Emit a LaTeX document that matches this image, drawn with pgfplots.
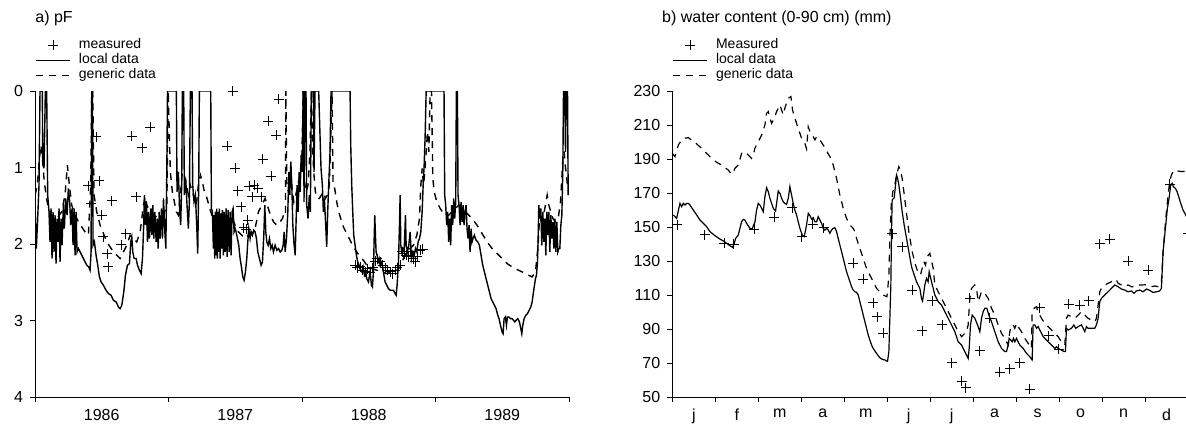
\documentclass[border=0pt]{standalone}
\usepackage{fontspec}
\setmainfont{Liberation Sans}
\usepackage{pgfplots}
\pgfplotsset{compat=1.18}
\begin{document}
\begin{tikzpicture}
\path[use as bounding box] (0,0) rectangle (593pt,211.5pt);
\pgfplotsset{
 panel/.style={
  scale only axis, axis x line*=bottom, axis y line*=left,
  x axis line style={-}, y axis line style={-},
  axis line style={line width=0.5pt},
  tick align=outside, major tick length=2.5pt,
  every tick/.style={black, line width=0.5pt},
  /pgf/number format/assume math mode=true,
  tick label style={font=\fontsize{8}{9.6}\selectfont},
  x tick label as interval,
  legend cell align=left,
  legend style={draw=none, fill=none, font=\fontsize{7}{8.4}\selectfont,
    at={(0,1.172)}, anchor=north west, inner sep=0pt, row sep=1pt,
    nodes={inner ysep=0pt, inner xsep=2.5pt, text height=5pt, text depth=1.5pt},
    /tikz/every odd column/.append style={column sep=1.5pt}},
  height=153pt,
 },
 meas/.style={only marks, mark=+, mark size=2.5pt, mark options={line width=0.5pt}, black},
 loc/.style={black, line width=0.7pt},
 gen/.style={black, line width=0.7pt, dash pattern=on 3.5pt off 3pt},
}
\node[anchor=base west, inner sep=0pt, font=\fontsize{8}{9.6}\selectfont] at (17.5pt,200pt) {a) pF};
\node[anchor=base west, inner sep=0pt, font=\fontsize{8}{9.6}\selectfont] at (330.9pt,200pt) {b) water content (0-90 cm) (mm)};

% ---------------- left panel ----------------
\begin{axis}[panel, at={(17.5pt,13pt)}, anchor=south west, width=267pt,
  xmin=1986, xmax=1990, ymin=0, ymax=4, y dir=reverse,
  xtick={1986,1987,1988,1989,1990}, xticklabels={1986,1987,1988,1989},
  ytick={0,1,2,3,4}]
\addlegendimage{meas}\addlegendentry{measured}
\addlegendimage{loc}\addlegendentry{local data}
\addlegendimage{gen}\addlegendentry{generic data}
\addplot[gen, forget plot] coordinates {
(1986.000,1.361)(1986.0175,1.230)(1986.0325,0.881)(1986.045,0.707)(1986.0575,0.925)(1986.0675,1.143)
(1986.0825,1.361)(1986.1,1.536)(1986.125,1.623)(1986.1625,1.667)(1986.2,1.579)(1986.225,1.361)
(1986.2425,0.969)(1986.2575,1.230)(1986.275,1.492)(1986.3,1.623)(1986.325,1.710)(1986.35,1.776)
(1986.375,1.841)(1986.4,1.885)(1986.4175,1.230)(1986.425,0)(1986.4325,0)(1986.4425,1.361)
(1986.4625,1.579)(1986.4875,1.754)(1986.5125,1.863)(1986.5375,1.972)(1986.5625,2.038)(1986.5875,2.103)
(1986.6125,2.147)(1986.6375,2.190)(1986.6625,2.103)(1986.6875,2.016)(1986.7125,1.885)(1986.7375,1.928)
(1986.7625,1.972)(1986.7875,1.841)(1986.8125,1.492)(1986.825,1.383)(1986.8375,1.492)(1986.8625,1.579)
(1986.8875,1.623)(1986.9125,1.645)(1986.9375,1.645)(1986.9625,1.623)(1986.9875,1.492)(1986.9975,0)
(1987.0138,1.056)(1987.0288,1.318)(1987.0438,1.449)(1987.0588,1.579)(1987.0738,1.623)(1987.0888,1.361)
(1987.1038,1.056)(1987.1188,1.099)(1987.1338,1.230)(1987.1488,1.361)(1987.1638,1.230)(1987.1788,1.318)
(1987.1938,1.405)(1987.2088,1.492)(1987.2238,1.230)(1987.2388,1.099)(1987.2538,1.187)(1987.2688,1.318)
(1987.2888,1.405)(1987.3088,1.536)(1987.3288,1.645)(1987.3488,1.710)(1987.3738,1.754)(1987.3988,1.710)
(1987.4238,1.667)(1987.4488,1.623)(1987.4738,1.645)(1987.4988,1.754)(1987.5238,1.841)(1987.5488,1.885)
(1987.5738,1.928)(1987.5988,1.885)(1987.6238,1.841)(1987.6488,1.798)(1987.6738,1.579)(1987.6988,1.492)
(1987.7238,1.405)(1987.7438,1.514)(1987.7638,1.623)(1987.7863,1.710)(1987.8113,1.754)(1987.8363,1.710)
(1987.8538,1.667)(1987.8688,1.579)(1987.8763,1.600)(1987.8788,0)(1987.8863,1.230)(1987.8988,1.318)
(1987.9188,1.187)(1987.9388,1.449)(1987.9588,1.318)(1987.9788,1.143)(1987.9988,0.900)(1988.0088,0)
(1988.015,1.143)(1988.03,1.318)(1988.045,1.230)(1988.06,0.794)(1988.07,0)(1988.08,0.794)
(1988.09,1.099)(1988.1,1.318)(1988.115,1.405)(1988.13,1.405)(1988.145,1.361)(1988.16,1.318)
(1988.175,1.405)(1988.19,1.361)(1988.205,1.230)(1988.2175,0.445)(1988.225,0)(1988.2325,1.230)
(1988.245,1.274)(1988.26,1.449)(1988.275,1.579)(1988.29,1.667)(1988.31,1.776)(1988.335,1.863)
(1988.36,1.950)(1988.385,2.038)(1988.41,2.103)(1988.435,2.168)(1988.46,2.212)(1988.485,2.277)
(1988.5225,2.321)(1988.56,2.343)(1988.5975,2.365)(1988.635,2.387)(1988.6725,2.365)(1988.71,2.343)
(1988.735,2.299)(1988.76,2.190)(1988.785,2.103)(1988.81,2.059)(1988.835,2.016)(1988.86,1.885)
(1988.88,1.667)(1988.89,1.230)(1988.9,1.012)(1988.91,1.230)(1988.92,1.056)(1988.93,0.794)
(1988.94,0.532)(1988.95,0.794)(1988.96,0)(1988.97,0)(1988.98,1.143)(1988.99,1.318)
(1989.01,1.449)(1989.035,1.536)(1989.06,1.601)(1989.0738,1.623)(1989.0988,1.623)(1989.1238,1.579)
(1989.1488,1.536)(1989.1738,1.492)(1989.1988,1.536)(1989.2238,1.579)(1989.2488,1.623)(1989.2738,1.667)
(1989.3113,1.754)(1989.3488,1.863)(1989.3863,1.972)(1989.4238,2.059)(1989.4613,2.125)(1989.4988,2.190)
(1989.5363,2.256)(1989.5738,2.299)(1989.6113,2.334)(1989.6488,2.365)(1989.6863,2.400)(1989.7238,2.430)
(1989.7488,2.365)(1989.7688,2.016)(1989.7788,1.667)(1989.7988,1.710)(1989.8188,1.536)(1989.8363,1.361)
(1989.8488,1.492)(1989.8638,1.579)(1989.8788,1.667)(1989.8988,1.710)(1989.9188,1.667)(1989.9363,1.449)
(1989.9488,1.056)(1989.9563,0.794)(1989.9638,0.800)(1989.9738,1.000)(1989.9863,1.200)(1989.9938,1.300)
};
\addplot[loc, forget plot] coordinates {
(1986.000,1.514)(1986.010,2.059)(1986.020,1.667)(1986.030,1.230)(1986.0375,0)(1986.055,0)
(1986.0575,0.881)(1986.0675,1.012)(1986.0775,0)(1986.0875,0)(1986.095,1.361)(1986.105,1.579)
(1986.1125,1.972)(1986.12,1.536)(1986.1275,2.190)(1986.135,1.579)(1986.1425,2.103)(1986.15,1.623)
(1986.1575,2.256)(1986.165,1.667)(1986.1725,1.972)(1986.18,1.536)(1986.1875,2.234)(1986.195,1.667)
(1986.2025,2.016)(1986.2125,1.492)(1986.22,1.798)(1986.23,1.405)(1986.24,1.623)(1986.25,1.274)
(1986.26,1.449)(1986.2675,1.754)(1986.2775,1.536)(1986.285,2.016)(1986.2925,1.536)(1986.3,2.147)
(1986.3075,1.579)(1986.315,2.103)(1986.325,2.059)(1986.3375,2.103)(1986.35,2.147)(1986.3625,2.190)
(1986.375,2.234)(1986.3875,2.277)(1986.4025,2.299)(1986.4125,2.343)(1986.42,2.103)(1986.425,0)
(1986.43,0)(1986.435,2.016)(1986.445,1.972)(1986.4575,2.147)(1986.47,2.277)(1986.4825,2.430)
(1986.495,2.496)(1986.5125,2.539)(1986.5325,2.605)(1986.55,2.648)(1986.57,2.670)(1986.5875,2.736)
(1986.6075,2.757)(1986.625,2.823)(1986.6375,2.845)(1986.65,2.801)(1986.665,2.627)(1986.6775,2.408)
(1986.6925,2.277)(1986.7075,2.256)(1986.7175,1.972)(1986.725,1.907)(1986.7325,2.103)(1986.7425,2.190)
(1986.7575,2.190)(1986.7675,2.277)(1986.7825,2.343)(1986.795,2.387)(1986.805,2.190)(1986.8125,1.841)
(1986.82,1.361)(1986.8275,1.754)(1986.835,1.449)(1986.8425,1.972)(1986.85,1.579)(1986.8575,1.928)
(1986.8675,1.536)(1986.875,1.885)(1986.8825,1.492)(1986.89,1.928)(1986.8975,1.579)(1986.9075,1.972)
(1986.915,1.667)(1986.9225,2.059)(1986.93,1.579)(1986.9375,1.928)(1986.9475,1.536)(1986.955,1.928)
(1986.9625,1.405)(1986.9725,1.841)(1986.98,2.059)(1986.9875,1.012)(1986.9925,0)(1987.0588,0)
(1987.0638,1.318)(1987.0738,1.056)(1987.0838,1.579)(1987.0913,1.754)(1987.0988,1.230)(1987.1038,0)
(1987.1138,0)(1987.1188,1.361)(1987.1288,1.143)(1987.1388,1.492)(1987.1488,1.798)(1987.1563,1.449)
(1987.1638,0)(1987.1763,0)(1987.1813,1.230)(1987.1913,1.449)(1987.2013,1.361)(1987.2113,1.754)
(1987.2188,2.125)(1987.2263,1.230)(1987.2313,0)(1987.3163,0)(1987.3213,1.536)(1987.3288,1.579)
(1987.3363,2.059)(1987.3413,1.623)(1987.3463,2.190)(1987.3513,1.579)(1987.3563,2.147)(1987.3613,1.536)
(1987.3663,2.190)(1987.3713,1.579)(1987.3763,2.103)(1987.3813,1.536)(1987.3863,2.190)(1987.3913,1.601)
(1987.3988,2.059)(1987.4038,1.558)(1987.4113,2.147)(1987.4163,1.579)(1987.4238,2.103)(1987.4313,1.536)
(1987.4388,2.168)(1987.4463,1.558)(1987.4538,2.103)(1987.4613,1.579)(1987.4688,2.147)(1987.4763,1.579)
(1987.4838,1.536)(1987.4913,1.841)(1987.4988,1.798)(1987.5063,1.841)(1987.5163,1.928)(1987.5263,2.016)
(1987.5363,2.190)(1987.5463,2.299)(1987.5563,2.430)(1987.5663,2.474)(1987.5763,2.365)(1987.5863,2.190)
(1987.5938,1.972)(1987.6013,1.798)(1987.6113,1.928)(1987.6188,1.841)(1987.6288,1.885)(1987.6388,1.819)
(1987.6488,1.841)(1987.6588,1.928)(1987.6688,2.103)(1987.6813,2.190)(1987.6938,2.277)(1987.7038,2.234)
(1987.7138,1.885)(1987.7213,1.492)(1987.7288,1.841)(1987.7363,1.972)(1987.7463,2.016)(1987.7563,1.928)
(1987.7663,2.059)(1987.7763,2.016)(1987.7863,2.103)(1987.7988,2.016)(1987.8113,2.081)(1987.8238,2.059)
(1987.8363,2.103)(1987.8488,2.081)(1987.8588,2.016)(1987.8663,1.841)(1987.8738,2.103)(1987.8838,1.928)
(1987.8938,1.579)(1987.9013,1.056)(1987.9088,1.361)(1987.9163,0.925)(1987.9238,1.230)(1987.9313,1.754)
(1987.9388,1.972)(1987.9488,2.147)(1987.9563,1.667)(1987.9638,1.230)(1987.9713,1.579)(1987.9788,1.056)
(1987.9863,1.318)(1987.9938,0.838)(1988.0013,1.056)(1988.0088,0)(1988.012,0)(1988.015,1.449)
(1988.0225,0)(1988.03,0)(1988.035,1.492)(1988.045,1.667)(1988.055,1.361)(1988.0625,1.579)
(1988.07,0)(1988.085,0)(1988.09,1.056)(1988.0975,0)(1988.125,0)(1988.1325,0.445)
(1988.1425,1.012)(1988.1525,1.230)(1988.16,1.579)(1988.1675,1.405)(1988.1775,1.754)(1988.185,2.038)
(1988.1925,1.579)(1988.2,1.230)(1988.21,0.794)(1988.2175,0)(1988.36,0)(1988.365,0.707)
(1988.3725,1.230)(1988.38,1.579)(1988.3875,1.885)(1988.3975,2.016)(1988.4075,2.147)(1988.4175,2.234)
(1988.4275,2.277)(1988.4375,2.343)(1988.4475,2.365)(1988.4575,2.299)(1988.4675,2.408)(1988.4775,2.365)
(1988.485,2.452)(1988.4975,2.496)(1988.51,2.365)(1988.52,2.539)(1988.5275,2.561)(1988.535,2.365)
(1988.54,1.972)(1988.545,1.623)(1988.55,1.885)(1988.555,2.103)(1988.5625,2.147)(1988.57,2.234)
(1988.5775,2.190)(1988.585,2.277)(1988.5975,2.234)(1988.61,2.365)(1988.6225,2.496)(1988.635,2.539)
(1988.6475,2.583)(1988.66,2.605)(1988.6725,2.605)(1988.685,2.605)(1988.6975,2.648)(1988.705,2.670)
(1988.7125,2.539)(1988.7225,2.234)(1988.73,1.754)(1988.735,1.361)(1988.74,2.016)(1988.7475,2.103)
(1988.755,2.059)(1988.765,2.103)(1988.775,1.623)(1988.78,2.016)(1988.79,2.103)(1988.8,2.016)
(1988.81,1.841)(1988.82,2.190)(1988.83,2.103)(1988.84,2.147)(1988.85,2.059)(1988.86,2.103)
(1988.87,1.972)(1988.88,1.928)(1988.89,1.841)(1988.9,1.579)(1988.9075,1.230)(1988.915,0.969)
(1988.9225,0.576)(1988.93,0)(1989.0638,0)(1989.0688,1.361)(1989.0763,1.492)(1989.0838,1.754)
(1989.0913,1.579)(1989.0988,1.972)(1989.1063,1.667)(1989.1138,2.016)(1989.1213,1.492)(1989.1288,1.754)
(1989.1363,1.405)(1989.1438,1.667)(1989.1513,1.449)(1989.1563,0)(1989.1638,0)(1989.1688,1.361)
(1989.1763,1.492)(1989.1838,1.754)(1989.1913,1.449)(1989.1988,1.710)(1989.2063,1.492)(1989.2138,1.754)
(1989.2213,1.579)(1989.2288,1.492)(1989.2363,1.798)(1989.2438,1.928)(1989.2513,1.754)(1989.2588,2.103)
(1989.2663,1.798)(1989.2738,1.972)(1989.2813,1.928)(1989.2913,1.885)(1989.3038,1.950)(1989.3163,1.972)
(1989.3288,2.016)(1989.3413,2.147)(1989.3538,2.277)(1989.3663,2.365)(1989.3788,2.452)(1989.3913,2.539)
(1989.4038,2.627)(1989.4163,2.714)(1989.4288,2.757)(1989.4413,2.801)(1989.4538,2.845)(1989.4663,2.932)
(1989.4763,2.976)(1989.4863,3.063)(1989.4988,3.150)(1989.5063,3.172)(1989.5138,2.976)(1989.5238,2.954)
(1989.5313,3.063)(1989.5388,2.954)(1989.5488,2.954)(1989.5613,2.976)(1989.5738,2.976)(1989.5838,2.997)
(1989.5938,3.019)(1989.6038,2.997)(1989.6163,2.976)(1989.6288,3.019)(1989.6388,3.106)(1989.6463,3.172)
(1989.6538,3.063)(1989.6638,2.976)(1989.6763,2.932)(1989.6888,2.910)(1989.7013,2.867)(1989.7138,2.823)
(1989.7238,2.757)(1989.7338,2.627)(1989.7413,2.539)(1989.7488,2.452)(1989.7563,2.408)(1989.7638,2.234)
(1989.7688,1.928)(1989.7738,1.492)(1989.7813,1.667)(1989.7888,1.536)(1989.7963,2.016)(1989.8038,1.579)
(1989.8113,1.972)(1989.8188,1.667)(1989.8263,2.147)(1989.8338,1.579)(1989.8413,1.885)(1989.8488,1.579)
(1989.8563,2.103)(1989.8638,1.623)(1989.8713,1.928)(1989.8788,1.710)(1989.8863,2.059)(1989.8938,1.667)
(1989.9013,2.103)(1989.9088,1.710)(1989.9163,2.103)(1989.9238,2.059)(1989.9313,2.059)(1989.9388,1.754)
(1989.9463,1.623)(1989.9538,1.012)(1989.9588,0)(1989.9688,0)(1989.9738,0.794)(1989.9788,0)
(1989.9888,0)(1989.9938,1.361)
};
\addplot[meas, forget plot] coordinates {
(1986.4575,0.598)(1986.725,0.589)(1986.8625,0.476)(1986.805,0.742)(1986.400,1.239)(1986.480,1.174)
(1986.575,1.435)(1986.420,1.466)(1986.7575,1.383)(1986.500,1.623)(1986.5125,1.907)(1986.680,1.863)
(1986.6475,2.007)(1986.5425,2.129)(1986.55,2.299)
(1987.481,0.0)(1987.826,0.109)(1987.746,0.393)(1987.806,0.576)(1987.441,0.720)(1987.706,0.894)
(1987.499,1.012)(1987.769,1.113)(1987.519,1.305)(1987.604,1.243)(1987.644,1.230)(1987.669,1.274)
(1987.629,1.383)(1987.694,1.383)(1987.544,1.514)(1987.594,1.688)(1987.564,1.789)(1987.581,1.806)
(1988.3975,2.277)(1988.415,2.312)(1988.435,2.299)(1988.455,2.343)(1988.4725,2.365)(1988.4925,2.321)
(1988.51,2.373)(1988.53,2.312)(1988.5475,2.225)(1988.565,2.190)(1988.585,2.234)(1988.605,2.277)
(1988.6225,2.312)(1988.64,2.343)(1988.66,2.365)(1988.68,2.387)(1988.6975,2.343)(1988.715,2.312)
(1988.735,2.277)(1988.75,2.103)(1988.765,2.125)(1988.78,2.147)(1988.7975,2.168)(1988.815,2.103)
(1988.835,2.190)(1988.85,2.234)(1988.865,2.168)(1988.885,2.081)(1988.905,2.068)
};
\end{axis}

% ---------------- right panel ----------------
\begin{axis}[panel, at={(336.15pt,13pt)}, anchor=south west, width=257.85pt,
  xmin=0, xmax=12, ymin=50, ymax=230,
  xtick={0,1,2,3,4,5,6,7,8,9,10,11,12}, xticklabels={j,f,m,a,m,j,j,a,s,o,n,d},
  ytick={50,70,90,110,130,150,170,190,210,230}]
\addlegendimage{meas}\addlegendentry{Measured}
\addlegendimage{loc, line width=0.6pt}\addlegendentry{local data}
\addlegendimage{gen, line width=0.6pt}\addlegendentry{generic data}
\addplot[gen, line width=0.6pt, forget plot] coordinates {
(0.0,193.3)(0.062,191.4)(0.140,198.2)(0.217,201.2)(0.295,202.2)(0.372,202.6)(0.450,201.0)(0.527,199.8)
(0.605,198.0)(0.682,196.3)(0.760,194.3)(0.837,192.4)(0.915,190.4)(0.992,188.8)(1.070,187.5)(1.147,186.5)
(1.225,184.9)(1.302,183.5)(1.380,181.0)(1.419,182.2)(1.457,184.5)(1.535,186.5)(1.612,193.3)(1.690,194.3)
(1.767,192.4)(1.845,190.4)(1.884,192.4)(1.922,196.3)(2.000,200.2)(2.078,204.1)(2.155,210.0)(2.194,216.9)
(2.233,217.9)(2.271,213.9)(2.310,211.0)(2.349,212.9)(2.388,214.9)(2.426,217.9)(2.465,219.8)(2.504,221.8)
(2.543,218.8)(2.581,216.0)(2.620,220.0)(2.659,223.0)(2.698,225.7)(2.760,226.7)(2.798,218.8)(2.853,213.9)
(2.930,208.0)(3.008,202.2)(3.085,199.2)(3.124,196.0)(3.163,209.0)(3.202,206.1)(3.279,203.1)(3.318,201.2)
(3.357,203.1)(3.395,202.0)(3.434,201.2)(3.512,198.2)(3.589,195.0)(3.628,193.0)(3.667,191.4)(3.744,186.5)
(3.822,178.6)(3.899,168.8)(3.977,161.0)(4.054,155.1)(4.132,151.2)(4.209,149.2)(4.248,147.3)(4.287,143.3)
(4.364,137.5)(4.442,131.6)(4.519,125.7)(4.597,121.8)(4.674,117.8)(4.752,113.9)(4.829,111.9)(4.907,110.0)
(4.992,109.0)(5.008,112.0)(5.039,121.8)(5.062,143.3)(5.093,162.9)(5.132,170.8)(5.178,174.7)(5.217,180.6)
(5.271,185.5)(5.310,183.5)(5.349,178.6)(5.388,170.8)(5.426,162.9)(5.465,155.1)(5.504,147.3)(5.543,141.4)
(5.581,135.5)(5.620,131.6)(5.659,127.6)(5.698,124.7)(5.736,122.8)(5.775,121.8)(5.814,125.7)(5.853,129.6)
(5.891,127.6)(5.930,132.5)(5.993,134.5)(6.071,125.7)(6.109,115.9)(6.187,111.9)(6.264,108.0)(6.342,104.1)
(6.420,100.2)(6.497,96.3)(6.574,92.4)(6.652,88.4)(6.730,85.5)(6.807,87.5)(6.846,88.4)(6.884,92.4)
(6.923,108.0)(6.962,113.9)(7.040,115.9)(7.078,113.9)(7.117,106.1)(7.195,112.0)(7.272,111.0)(7.350,108.0)
(7.427,102.2)(7.505,98.2)(7.582,92.4)(7.660,87.5)(7.737,84.5)(7.815,80.6)(7.853,88.4)(7.892,92.4)
(7.931,92.4)(7.970,90.4)(8.009,93.3)(8.047,91.4)(8.125,88.4)(8.202,84.5)(8.280,81.6)(8.357,78.6)
(8.373,100.2)(8.419,102.2)(8.474,103.1)(8.513,99.2)(8.551,98.2)(8.590,96.3)(8.668,93.3)(8.745,91.4)
(8.823,89.4)(8.900,87.5)(8.978,85.5)(9.055,82.5)(9.133,80.6)(9.171,96.3)(9.210,98.2)(9.288,97.2)
(9.365,96.3)(9.443,98.2)(9.520,100.2)(9.598,98.2)(9.675,96.3)(9.753,95.3)(9.830,94.3)(9.869,96.3)
(9.908,104.1)(9.947,111.9)(9.986,113.9)(10.063,115.9)(10.141,116.9)(10.218,117.8)(10.296,119.3)(10.334,118.8)
(10.373,116.9)(10.451,115.9)(10.528,114.9)(10.606,115.9)(10.683,114.9)(10.761,114.9)(10.838,115.9)(10.916,115.9)
(10.993,116.0)(11.071,115.9)(11.148,114.9)(11.226,115.3)(11.304,114.9)(11.342,114.9)(11.381,117.8)(11.420,135.5)
(11.458,147.3)(11.497,159.0)(11.536,168.8)(11.574,176.7)(11.613,180.6)(11.652,182.6)(11.691,183.5)(11.768,182.9)
(11.846,182.6)(11.946,182.6)(12.0,182.5)
};
\addplot[loc, line width=0.6pt, forget plot] coordinates {
(0.023,157.1)(0.062,156.1)(0.101,155.1)(0.178,163.9)(0.217,162.0)(0.256,163.9)(0.295,162.9)(0.333,163.9)
(0.372,163.9)(0.411,162.9)(0.488,160.0)(0.566,157.1)(0.643,154.1)(0.721,152.2)(0.798,150.2)(0.876,147.3)
(0.992,144.9)(1.109,142.9)(1.186,141.8)(1.264,140.4)(1.341,139.0)(1.403,138.0)(1.442,140.4)(1.473,143.3)
(1.535,145.3)(1.574,149.2)(1.612,153.1)(1.651,154.5)(1.690,154.1)(1.729,152.2)(1.806,149.2)(1.860,148.8)
(1.891,151.2)(1.922,152.8)(1.961,160.0)(2.000,163.9)(2.039,162.9)(2.078,161.0)(2.116,159.0)(2.155,167.8)
(2.194,173.1)(2.233,170.8)(2.271,166.9)(2.310,163.9)(2.349,161.0)(2.403,159.4)(2.465,171.2)(2.504,169.8)
(2.543,166.9)(2.581,164.9)(2.620,163.9)(2.659,163.3)(2.698,166.9)(2.736,173.7)(2.775,168.8)(2.814,163.9)
(2.853,159.8)(2.891,157.1)(2.930,153.1)(2.969,149.2)(3.023,145.3)(3.070,144.3)(3.124,151.2)(3.163,158.0)
(3.202,156.7)(3.240,154.7)(3.279,155.5)(3.318,153.1)(3.357,153.1)(3.395,156.1)(3.434,154.1)(3.473,152.2)
(3.512,149.2)(3.550,148.2)(3.589,149.2)(3.628,148.2)(3.667,146.3)(3.705,148.2)(3.744,149.2)(3.783,149.6)
(3.822,147.3)(3.860,143.3)(3.899,139.4)(3.938,135.5)(3.977,131.6)(4.016,127.6)(4.054,123.7)(4.093,120.8)
(4.132,117.8)(4.171,114.9)(4.209,112.9)(4.248,111.9)(4.287,111.6)(4.326,110.0)(4.364,106.1)(4.403,102.2)
(4.442,98.2)(4.481,94.3)(4.519,90.4)(4.558,86.5)(4.597,83.5)(4.636,80.6)(4.674,78.6)(4.713,77.1)
(4.752,75.7)(4.791,74.3)(4.829,73.1)(4.868,72.4)(4.907,72.0)(4.946,71.8)(4.984,71.2)(5.008,71.0)
(5.039,76.7)(5.062,96.3)(5.085,115.9)(5.101,147.3)(5.116,165.9)(5.163,167.2)(5.194,174.7)(5.217,180.6)
(5.240,179.0)(5.271,174.7)(5.302,168.8)(5.349,159.0)(5.395,151.2)(5.450,143.3)(5.504,135.5)(5.566,126.7)
(5.628,121.8)(5.682,117.8)(5.721,115.9)(5.760,113.9)(5.798,108.0)(5.822,106.5)(5.845,110.0)(5.876,115.9)
(5.915,119.8)(5.953,117.8)(5.977,123.7)(6.032,117.8)(6.071,113.9)(6.109,110.0)(6.187,106.1)(6.264,104.1)
(6.342,100.2)(6.420,96.3)(6.497,92.4)(6.574,88.4)(6.652,82.5)(6.691,81.6)(6.730,80.6)(6.768,78.6)
(6.807,76.7)(6.846,74.7)(6.884,72.7)(6.908,78.6)(6.939,92.4)(6.978,98.2)(7.040,96.3)(7.102,92.4)
(7.156,88.4)(7.195,96.3)(7.233,100.2)(7.272,102.2)(7.319,102.2)(7.365,98.2)(7.427,94.3)(7.505,88.4)
(7.582,82.5)(7.660,78.6)(7.737,76.7)(7.776,76.7)(7.815,80.6)(7.838,84.5)(7.877,83.5)(7.908,82.5)
(7.939,84.5)(7.970,82.5)(8.009,84.5)(8.047,82.5)(8.086,80.6)(8.164,78.6)(8.241,75.7)(8.319,73.7)
(8.373,71.8)(8.396,92.4)(8.435,92.4)(8.474,90.4)(8.513,91.4)(8.551,89.4)(8.590,87.5)(8.629,85.5)
(8.668,84.5)(8.745,82.5)(8.823,80.6)(8.900,78.6)(8.939,79.6)(8.978,78.6)(9.055,77.6)(9.117,76.7)
(9.148,76.7)(9.171,90.4)(9.210,89.4)(9.288,90.4)(9.342,92.4)(9.388,90.4)(9.443,91.4)(9.520,92.4)
(9.598,88.4)(9.637,91.4)(9.675,90.4)(9.753,90.4)(9.830,90.4)(9.869,92.4)(9.908,96.3)(9.947,106.1)
(9.986,108.0)(10.063,110.0)(10.141,111.9)(10.218,113.9)(10.296,115.9)(10.373,114.9)(10.451,113.5)(10.528,112.9)
(10.606,111.9)(10.683,112.4)(10.745,111.0)(10.799,112.4)(10.877,112.9)(10.955,111.9)(11.032,113.5)(11.110,112.7)
(11.187,111.5)(11.264,111.9)(11.342,112.4)(11.381,113.9)(11.420,135.5)(11.458,145.3)(11.497,155.1)(11.520,161.0)
(11.559,166.9)(11.598,174.7)(11.629,175.7)(11.660,173.7)(11.706,172.7)(11.745,170.8)(11.784,167.8)(11.830,163.9)
(11.884,160.0)(11.946,157.1)(12.0,154.5)
};
\addplot[meas, forget plot] coordinates {
(0.116,151.2)(0.760,145.3)(1.209,140.4)(1.434,139.8)(1.907,148.6)(2.372,155.7)(2.791,161.4)(3.008,144.3)
(3.264,151.6)(3.527,149.6)(4.209,128.6)(4.442,119.2)(4.674,105.5)(4.767,97.2)(4.907,87.5)(5.116,145.9)
(5.349,138.4)(5.581,112.9)(5.814,89.0)
(6.047,106.5)(6.280,92.4)(6.497,70.2)(6.730,59.4)(6.830,55.5)(6.923,108.0)(7.156,77.1)(7.389,96.3)
(7.621,64.5)(7.853,66.5)(8.086,70.2)(8.318,54.5)(8.551,102.5)(8.761,86.1)(8.993,78.0)(9.226,104.7)
(9.482,104.1)(9.691,106.5)(9.947,140.2)(10.179,142.9)(10.606,130.0)(11.071,124.7)(11.574,175.1)(12.0,146.3)
};
\end{axis}
\end{tikzpicture}
\end{document}
